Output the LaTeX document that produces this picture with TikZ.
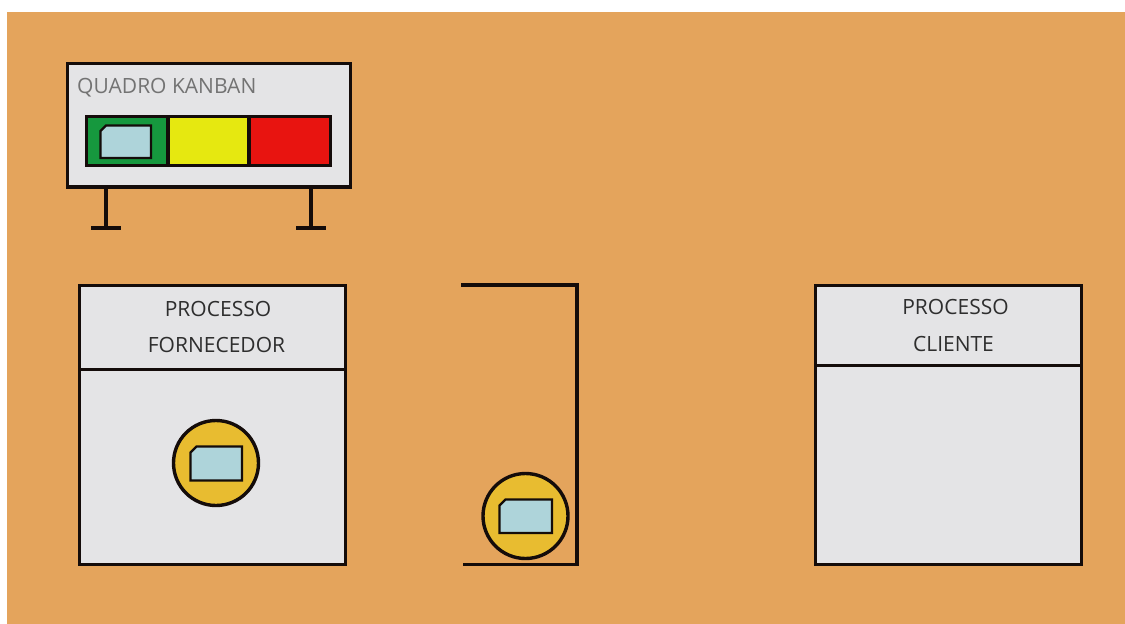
\documentclass[tikz,border=0pt]{standalone}
\usepackage{fontspec}
\setmainfont{Open Sans}
\usepackage{tikz}
\usetikzlibrary{positioning, calc}
\definecolor{bgorange}{RGB}{228,164,92}
\definecolor{panelgray}{RGB}{228,228,230}
\definecolor{linedark}{RGB}{20,12,10}
\definecolor{cardblue}{RGB}{174,212,218}
\definecolor{discyellow}{RGB}{232,188,48}
\definecolor{kgreen}{RGB}{22,152,62}
\definecolor{kyellow}{RGB}{230,232,16}
\definecolor{kred}{RGB}{232,20,16}

\begin{document}
\begin{tikzpicture}[x=1pt, y=-1pt,
    panel/.style={rectangle, draw=linedark, fill=panelgray, line width=3.4pt, anchor=north west, inner sep=0pt, outer sep=0pt},
    slot/.style={rectangle, draw=linedark, line width=3.4pt, anchor=north west, inner sep=0pt, outer sep=0pt, minimum width=81.3pt, minimum height=49pt},
    disc/.style={circle, draw=linedark, fill=discyellow, line width=3.4pt, minimum size=85pt, inner sep=0pt, outer sep=0pt},
    rail/.style={color=linedark, line width=3.6pt},
    card/.style={draw=linedark, fill=cardblue, line width=2.2pt},
    boxtext/.style={font=\fontsize{21}{21}\selectfont, text=black!82, inner sep=0pt}
]
\useasboundingbox (0,0) rectangle (1125,624);
\fill[white] (0,0) rectangle (1125,624);
\fill[bgorange] (7,12) rectangle (1125,624);

% quadro kanban
\node[panel, minimum width=283pt, minimum height=123.5pt] (board) at (67.5,63.5) {};
\node[boxtext, text=black!55, anchor=west] (boardtitle) at (77,88) {QUADRO KANBAN};
\node[slot, fill=kgreen] (green) at (86.5,116.5) {};
\node[slot, fill=kyellow, right=0pt of green] (yellow) {};
\node[slot, fill=kred, right=0pt of yellow] (red) {};
\draw[card] (100.5,131) -- (106,125.5) -- (151,125.5) -- (151,158) -- (100.5,158) -- cycle;

\coordinate (legleft) at (106,187);
\coordinate (legright) at (311,187);
\coordinate (footleft) at (106,228);
\coordinate (footright) at (311,228);
\draw[rail] (legleft) -- (footleft);
\draw[rail] (legright) -- (footright);
\draw[rail] ([xshift=-15pt]footleft) -- ([xshift=15pt]footleft);
\draw[rail] ([xshift=-15pt]footright) -- ([xshift=15pt]footright);

% processo fornecedor
\node[panel, minimum width=266pt, minimum height=279pt] (supplier) at (79.5,285.5) {};
\draw[rail] (supplier.west |- 0,369.5) -- (supplier.east |- 0,369.5);
\node[boxtext] (suppliername) at (218,309) {PROCESSO};
\node[boxtext] (suppliertext) at (216.5,345) {FORNECEDOR};
\node[disc] (supplierdisc) at (216,463) {};
\draw[card] (190.5,452.5) -- (196.5,446.5) -- (242,446.5) -- (242,480.5) -- (190.5,480.5) -- cycle;

% supermercado
\coordinate (shelftop) at (461,285);
\coordinate (shelfcorner) at (577,285);
\coordinate (shelfbottom) at (577,564.5);
\coordinate (shelfend) at (463,564.5);
\draw[rail] (shelftop) -- (shelfcorner) -- (shelfbottom) -- (shelfend);
\node[disc] (shelfdisc) at (525.5,516) {};
\draw[card] (499.5,505.5) -- (505.5,499.5) -- (552,499.5) -- (552,533) -- (499.5,533) -- cycle;

% processo cliente
\node[panel, minimum width=266pt, minimum height=279pt] (customer) at (815.5,285.5) {};
\draw[rail] (customer.west |- 0,365.5) -- (customer.east |- 0,365.5);
\node[boxtext] (customername) at (955.5,307) {PROCESSO};
\node[boxtext] (customertext) at (953.5,344) {CLIENTE};
\end{tikzpicture}
\end{document}
